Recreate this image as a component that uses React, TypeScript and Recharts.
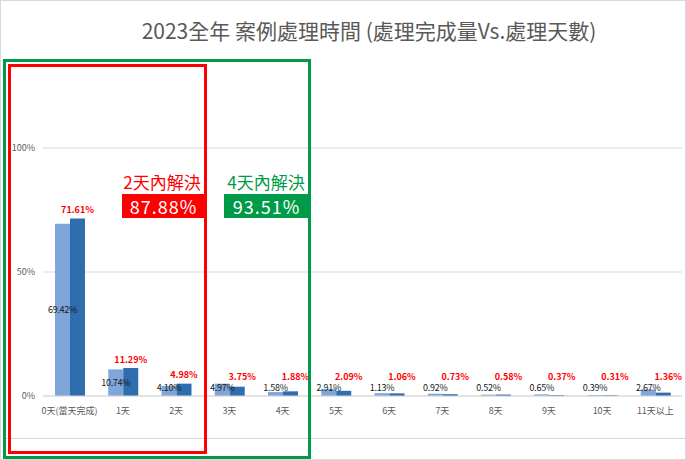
import { Bar, BarChart, CartesianGrid, LabelList, XAxis, YAxis } from "recharts";

const categories = ["0天(當天完成)", "1天", "2天", "3天", "4天", "5天", "6天", "7天", "8天", "9天", "10天", "11天以上"];
// light bars (black labels)
const doneShare = [69.42, 10.74, 4.1, 4.97, 1.58, 2.91, 1.13, 0.92, 0.52, 0.65, 0.39, 2.67];
// dark bars (red labels)
const dayShare = [71.61, 11.29, 4.98, 3.75, 1.88, 2.09, 1.06, 0.73, 0.58, 0.37, 0.31, 1.36];
const yTicks = [0, 50, 100];

const title = "2023全年 案例處理時間 (處理完成量Vs.處理天數)";
const within2 = { label: "2天內解決", value: "87.88%" };
const within4 = { label: "4天內解決", value: "93.51%" };

const FONT = '"Noto Sans CJK TC", "Noto Sans", sans-serif';
const LIGHT = "#7EA6D8";
const DARK = "#2E6DAE";
const RED = "#FF0000";
const GREEN = "#009B48";

const data = categories.map((name, i) => ({ name, done: doneShare[i], days: dayShare[i] }));

function InnerLabel(props: any) {
  const { x, y, width, height, value } = props;
  const base = y + height;
  const cy = Math.min(y + height / 2, base - 9);
  return (
    <text x={x + width / 2} y={cy} textAnchor="middle" dominantBaseline="central"
      fontSize={9} fontFamily={FONT} fill="#1a1a1a" letterSpacing={-0.3}>
      {value.toFixed(2)}%
    </text>
  );
}

function TopLabel(props: any) {
  const { x, y, width, height, value } = props;
  const base = y + height;
  const wanted = y - 9;
  const floor = base - 20;
  const clamped = wanted > floor;
  return (
    <text x={x + width / 2 + (clamped ? 5 : 0)} y={clamped ? floor : wanted} textAnchor="middle"
      dominantBaseline="central" fontSize={9} fontWeight="bold" fontFamily={FONT} fill={RED}>
      {value.toFixed(2)}%
    </text>
  );
}

export default function App() {
  return (
    <div style={{ position: "absolute", left: 0, top: 0, width: 686, height: 460, background: "#fff", fontFamily: FONT }}>
      <div style={{ position: "absolute", inset: 0, border: "1px solid #d9d9d9", boxSizing: "border-box" }} />
      <div style={{ position: "absolute", left: 0, right: 0, top: 15, textAlign: "center", paddingLeft: 52, fontSize: 21, color: "#595959" }}>
        {title}
      </div>
      <div style={{ position: "absolute", left: 4, right: 0, top: 438, height: 1, background: "#d9d9d9" }} />
      <BarChart width={686} height={460} data={data} barSize={15} barGap={0}
        margin={{ top: 148, right: 4, bottom: 34, left: 0 }} style={{ position: "absolute", left: 0, top: 0 }}>
        <CartesianGrid vertical={false} stroke="#d9d9d9" />
        <XAxis dataKey="name" height={30} axisLine={{ stroke: "#d9d9d9" }} tickLine={false} interval={0}
          tick={{ fontSize: 9, fill: "#595959", fontFamily: FONT }} tickMargin={6} />
        <YAxis width={43} domain={[0, 100]} ticks={yTicks} axisLine={false} tickLine={false}
          tickFormatter={(v: number) => `${v}%`} tick={{ fontSize: 9, fill: "#595959", fontFamily: FONT }} />
        <Bar dataKey="done" fill={LIGHT} isAnimationActive={false}>
          <LabelList dataKey="done" content={InnerLabel} />
        </Bar>
        <Bar dataKey="days" fill={DARK} isAnimationActive={false}>
          <LabelList dataKey="days" content={TopLabel} />
        </Bar>
      </BarChart>
      {/* highlight frames */}
      <div style={{ position: "absolute", left: 3, top: 59, width: 308, height: 400, border: `3px solid ${GREEN}`, boxSizing: "border-box" }} />
      <div style={{ position: "absolute", left: 8, top: 64, width: 199, height: 390, border: `3px solid ${RED}`, boxSizing: "border-box" }} />
      <div style={{ position: "absolute", left: 122, top: 172, width: 80, textAlign: "center", fontSize: 17, color: RED, lineHeight: "20px" }}>
        {within2.label}
      </div>
      <div style={{ position: "absolute", left: 122, top: 194, width: 83, height: 24, background: RED, color: "#fff", fontSize: 18, lineHeight: "24px", textAlign: "center", letterSpacing: 1 }}>
        {within2.value}
      </div>
      <div style={{ position: "absolute", left: 226, top: 172, width: 80, textAlign: "center", fontSize: 17, color: GREEN, lineHeight: "20px" }}>
        {within4.label}
      </div>
      <div style={{ position: "absolute", left: 224, top: 194, width: 85, height: 24, background: GREEN, color: "#fff", fontSize: 18, lineHeight: "24px", textAlign: "center", letterSpacing: 1 }}>
        {within4.value}
      </div>
    </div>
  );
}
